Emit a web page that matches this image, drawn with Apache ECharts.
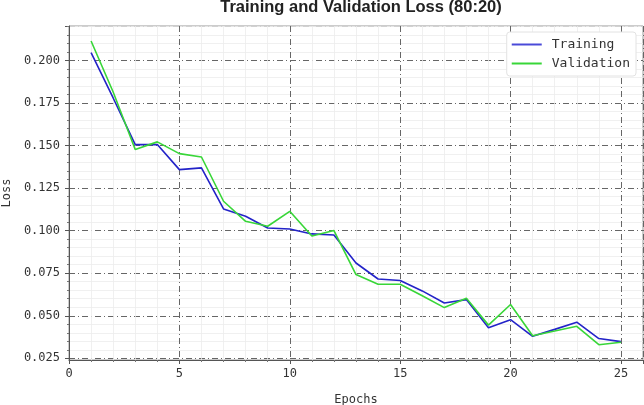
<!DOCTYPE html>
<html>
<head>
<meta charset="utf-8">
<script src="https://cdn.jsdelivr.net/npm/echarts@6/dist/echarts.min.js"></script>
<style>
  html, body { margin: 0; padding: 0; background: #fff; }
  #chart { width: 644px; height: 405px; }
</style>
</head>
<body>
<div id="chart"></div>
<script>
// 学習曲線 (80:20)
const epochs = [1, 2, 3, 4, 5, 6, 7, 8, 9, 10, 11, 12, 13, 14, 15, 16, 17, 18, 19, 20, 21, 22, 23, 24, 25];
const trainingLoss = [0.2047, 0.1780, 0.1506, 0.1506, 0.1359, 0.1369, 0.1128, 0.1085, 0.1016, 0.1010,
  0.0981, 0.0975, 0.0810, 0.0716, 0.0707, 0.0646, 0.0575, 0.0595, 0.0430, 0.0477,
  0.0379, 0.0420, 0.0462, 0.0366, 0.0348];
const validationLoss = [0.2115, 0.1815, 0.1477, 0.1522, 0.1453, 0.1433, 0.1173, 0.1055, 0.1026, 0.1114,
  0.0969, 0.1001, 0.0742, 0.0685, 0.0685, 0.0618, 0.0548, 0.0603, 0.0445, 0.0566,
  0.0383, 0.0410, 0.0438, 0.0330, 0.0344];
const xTicks = [0, 5, 10, 15, 20, 25];
const yTicks = [0.025, 0.050, 0.075, 0.100, 0.125, 0.150, 0.175, 0.200];

const mono = 'DejaVu Sans Mono';
const majorLine = { color: '#666', width: 1, type: [6, 3, 1, 3] };
const minorLine = { color: '#ececec', width: 0.8 };
const Y_MIN = 0.0240, Y_MAX = 0.2203;

const chart = echarts.init(document.getElementById('chart'));

const pairs = arr => epochs.map((e, i) => [e, arr[i]]);
const isTick = (list, v) => list.some(t => Math.abs(t - v) < 1e-6);

// grid 0: データ・枠・x軸 / grid 1: y目盛り (0.025 始まり、枠より 2px 上)
const option = {
  backgroundColor: '#fff',
  animation: false,
  title: {
    text: 'Training and Validation Loss (80:20)',
    left: 356,
    textAlign: 'center',
    top: -6,
    textStyle: { fontFamily: 'Liberation Sans', fontWeight: 'bold', fontSize: 16.5, color: '#222' }
  },
  legend: {
    orient: 'vertical',
    right: 8,
    top: 32,
    icon: 'rect',
    itemWidth: 30,
    itemHeight: 2,
    itemGap: 6,
    padding: [6, 6, 6, 5],
    backgroundColor: '#fff',
    borderColor: '#e2e2e2',
    borderWidth: 1,
    borderRadius: 3,
    textStyle: { fontFamily: mono, fontSize: 13, color: '#333', padding: [0, 0, 0, 5] },
    data: ['Training', 'Validation']
  },
  grid: [
    { left: 69, right: 1, top: 26, bottom: 45, outerBoundsMode: 'none',
      show: true, borderColor: '#999', borderWidth: 1 },
    { left: 69, right: 1, top: 26, bottom: 405 - 26 - 334 * (Y_MAX - yTicks[0]) / (Y_MAX - Y_MIN),
      outerBoundsMode: 'none' }
  ],
  xAxis: [
    {
      gridIndex: 0,
      type: 'value',
      min: 0,
      max: 26,
      interval: 5,
      name: 'Epochs',
      nameLocation: 'middle',
      nameGap: 34,
      nameTextStyle: { fontFamily: mono, fontSize: 12, color: '#333' },
      axisLine: { lineStyle: { color: '#555', width: 1 } },
      axisTick: { show: true, length: 4, lineStyle: { color: '#555' } },
      minorTick: { show: true, splitNumber: 5, length: 2, lineStyle: { color: '#777' } },
      axisLabel: {
        fontFamily: mono, fontSize: 12, color: '#333', margin: 8,
        showMaxLabel: false,
        formatter: v => isTick(xTicks, v) ? String(v) : ''
      },
      splitLine: { show: true, lineStyle: majorLine },
      minorSplitLine: { show: true, lineStyle: minorLine }
    },
    { gridIndex: 1, type: 'value', min: 0, max: 26, show: false }
  ],
  yAxis: [
    {
      gridIndex: 0,
      type: 'value',
      min: Y_MIN,
      max: Y_MAX,
      name: 'Loss',
      nameLocation: 'middle',
      nameGap: 56,
      nameRotate: 90,
      nameTextStyle: { fontFamily: mono, fontSize: 12, color: '#333' },
      axisLine: { show: true, lineStyle: { color: '#555', width: 1 } },
      axisTick: { show: false },
      axisLabel: { show: false },
      splitLine: { show: false }
    },
    {
      gridIndex: 1,
      type: 'value',
      min: yTicks[0],
      max: Y_MAX,
      interval: 0.025,
      axisLine: { show: false },
      axisTick: { show: true, length: 4, lineStyle: { color: '#555' } },
      minorTick: { show: true, splitNumber: 5, length: 2, lineStyle: { color: '#777' } },
      axisLabel: {
        fontFamily: mono, fontSize: 12, color: '#333', margin: 9,
        showMaxLabel: false,
        formatter: v => isTick(yTicks, v) ? v.toFixed(3) : ''
      },
      splitLine: { show: true, lineStyle: majorLine },
      minorSplitLine: { show: true, lineStyle: minorLine }
    }
  ],
  series: [
    {
      name: 'Training',
      type: 'line',
      xAxisIndex: 0,
      yAxisIndex: 0,
      data: pairs(trainingLoss),
      symbol: 'none',
      lineStyle: { color: '#2323c8', width: 1.6 },
      itemStyle: { color: '#4a4ad8' },
      z: 3
    },
    {
      name: 'Validation',
      type: 'line',
      xAxisIndex: 0,
      yAxisIndex: 0,
      data: pairs(validationLoss),
      symbol: 'none',
      lineStyle: { color: '#38d638', width: 1.6 },
      itemStyle: { color: '#38d638' },
      z: 4
    }
  ]
};

chart.setOption(option);
</script>
</body>
</html>
